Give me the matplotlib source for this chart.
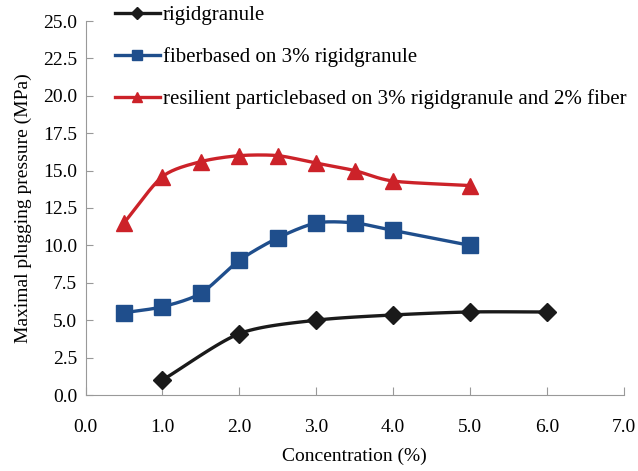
import numpy as np
import matplotlib.pyplot as plt

plt.rcParams['font.family'] = ['Liberation Serif', 'DejaVu Serif']

# data
x_rigid = [1.0, 2.0, 3.0, 4.0, 5.0, 6.0]
y_rigid = [1.0, 4.1, 5.0, 5.35, 5.55, 5.55]

x_fiber = [0.5, 1.0, 1.5, 2.0, 2.5, 3.0, 3.5, 4.0, 5.0]
y_fiber = [5.5, 5.9, 6.8, 9.0, 10.5, 11.5, 11.5, 11.0, 10.0]

x_resil = [0.5, 1.0, 1.5, 2.0, 2.5, 3.0, 3.5, 4.0, 5.0]
y_resil = [11.5, 14.6, 15.6, 16.0, 16.0, 15.5, 15.0, 14.3, 14.0]

labels = ["rigidgranule",
          "fiberbased on 3% rigidgranule",
          "resilient particlebased on 3% rigidgranule and 2% fiber"]
colors = ["#1a1a1a", "#1f4e8c", "#cc2229"]
markers = ["D", "s", "^"]
msizes = [9, 11, 11]


def smooth(xs, ys, n=20):
    # catmull-rom curve through the points (like excel "smoothed line")
    xs = np.asarray(xs, float)
    ys = np.asarray(ys, float)
    px = np.concatenate([[2 * xs[0] - xs[1]], xs, [2 * xs[-1] - xs[-2]]])
    py = np.concatenate([[2 * ys[0] - ys[1]], ys, [2 * ys[-1] - ys[-2]]])
    ox, oy = [], []
    t = np.linspace(0, 1, n)
    for i in range(1, len(px) - 2):
        for p, o in ((px, ox), (py, oy)):
            p0, p1, p2, p3 = p[i - 1], p[i], p[i + 1], p[i + 2]
            m1 = (p2 - p0) / 2 * 0.8
            m2 = (p3 - p1) / 2 * 0.8
            h00 = 2 * t**3 - 3 * t**2 + 1
            h10 = t**3 - 2 * t**2 + t
            h01 = -2 * t**3 + 3 * t**2
            h11 = t**3 - t**2
            o.extend(h00 * p1 + h10 * m1 + h01 * p2 + h11 * m2)
    return ox, oy


fig = plt.figure(figsize=(6.38, 4.71), dpi=100)
ax = fig.add_axes([85.5 / 638, 1 - 395 / 471, 538.5 / 638, 374 / 471])

handles = []
for xs, ys, c, m, ms, lab in zip([x_rigid, x_fiber, x_resil],
                                 [y_rigid, y_fiber, y_resil],
                                 colors, markers, msizes, labels):
    sx, sy = smooth(xs, ys)
    ax.plot(sx, sy, color=c, lw=2.4, zorder=2)
    ax.plot(xs, ys, ls="none", marker=m, ms=ms, color=c, zorder=3)
    h, = ax.plot([], [], color=c, lw=2.4, marker=m, ms=ms)
    handles.append(h)

ax.set_xlim(0, 7)
ax.set_ylim(0, 25)
ax.set_xticks(np.arange(0, 7.01, 1.0))
ax.set_yticks(np.arange(0, 25.01, 2.5))
ax.set_xticklabels([f"{v:.1f}" for v in np.arange(0, 7.01, 1.0)])
ax.set_yticklabels([f"{v:.1f}" for v in np.arange(0, 25.01, 2.5)])
ax.tick_params(axis="x", direction="in", length=6, color="#999999", labelsize=14, pad=17)
ax.tick_params(axis="y", direction="in", length=5, color="#999999", labelsize=14, pad=6)
for s in ["top", "right"]:
    ax.spines[s].set_visible(False)
for s in ["left", "bottom"]:
    ax.spines[s].set_color("#999999")

ax.set_xlabel("Concentration (%)", fontsize=14, labelpad=9)
ax.set_ylabel("Maximal plugging pressure (MPa)", fontsize=14, labelpad=8)

fig.legend(handles, labels, loc="upper left", bbox_to_anchor=(115 / 638, 1 - 5.5 / 471),
           frameon=False, fontsize=15, handlelength=2.15, handletextpad=0.15,
           labelspacing=1.07, borderpad=0, borderaxespad=0, markerscale=0.7)

fig.savefig("out.png", dpi=100)
